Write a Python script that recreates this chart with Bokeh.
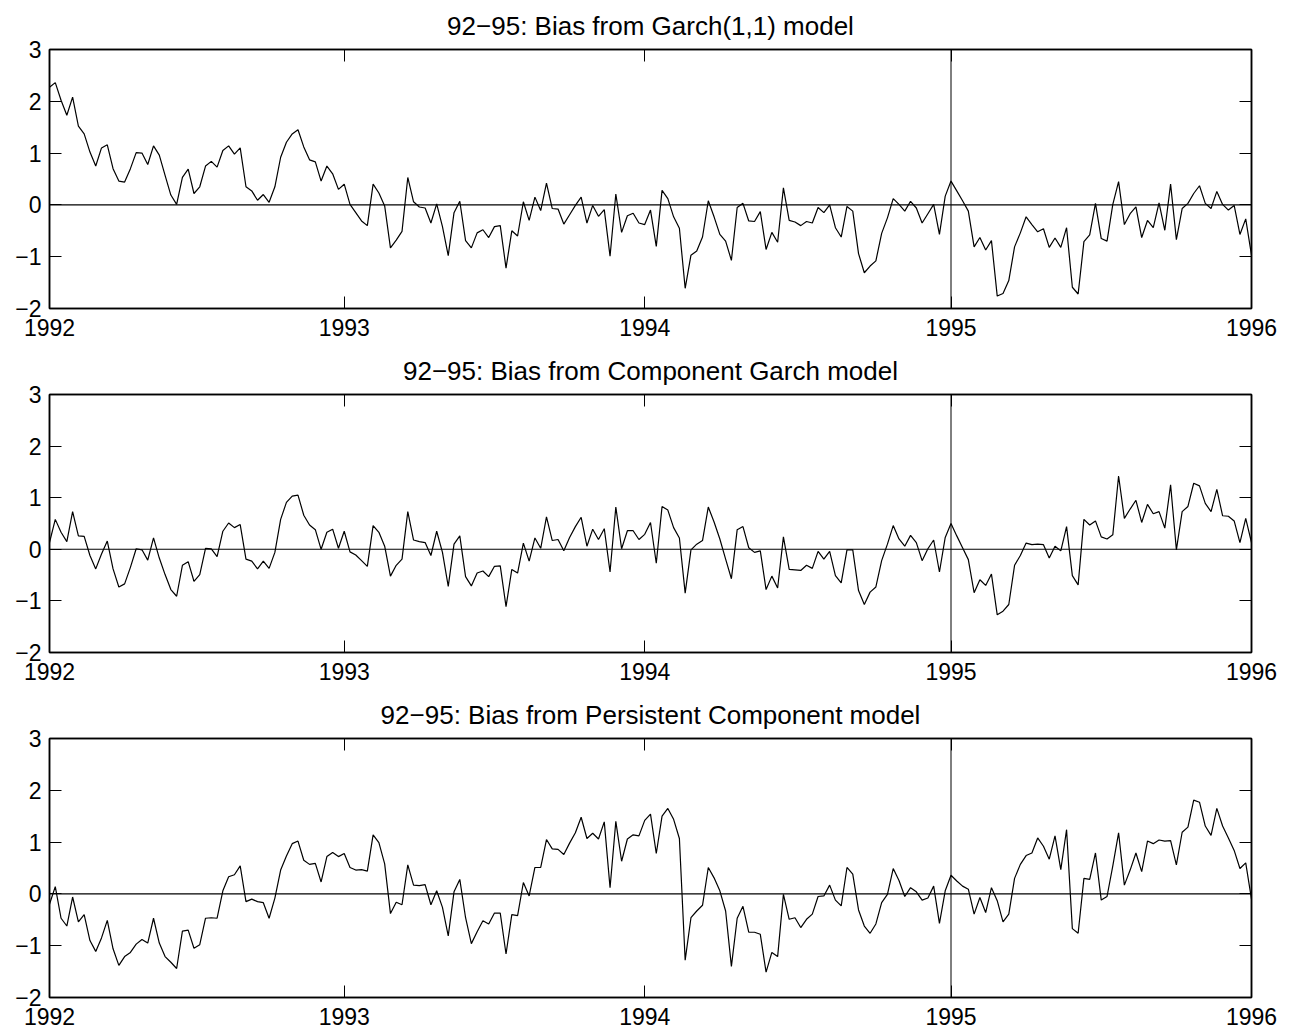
from bokeh.plotting import figure
from bokeh.layouts import column
from bokeh.models import Range1d, FixedTicker, LinearAxis, Span, Title
from bokeh.embed import file_html
from bokeh.resources import INLINE

weeks = list(range(209))
year_ticks = [0, 51, 103, 156, 208]
year_labels = ["1992", "1993", "1994", "1995", "1996"]
y_ticks = [-2, -1, 0, 1, 2, 3]
y_labels = ["\u22122", "\u22121", "0", "1", "2", "3"]
break_week = 156

titles = [
    "92\u221295: Bias from Garch(1,1) model",
    "92\u221295: Bias from Component Garch model",
    "92\u221295: Bias from Persistent Component model",
]

garch = [2.27, 2.36, 2.02, 1.73, 2.08, 1.52, 1.37, 1.02, 0.75, 1.10,
         1.16, 0.70, 0.46, 0.44, 0.70, 1.01, 1.00, 0.78, 1.14, 0.96,
         0.57, 0.19, 0.01, 0.53, 0.69, 0.22, 0.35, 0.75, 0.84, 0.73,
         1.05, 1.14, 0.98, 1.10, 0.35, 0.27, 0.09, 0.20, 0.05, 0.35,
         0.92, 1.21, 1.37, 1.45, 1.12, 0.87, 0.83, 0.46, 0.75, 0.60,
         0.30, 0.40, 0.01, -0.15, -0.31, -0.40, 0.40, 0.23, -0.02, -0.83,
         -0.68, -0.51, 0.53, 0.06, -0.04, -0.06, -0.35, 0.02, -0.42, -0.98,
         -0.15, 0.07, -0.69, -0.83, -0.54, -0.48, -0.63, -0.42, -0.40, -1.22,
         -0.50, -0.60, 0.06, -0.30, 0.15, -0.11, 0.42, -0.07, -0.08, -0.37,
         -0.19, -0.01, 0.15, -0.35, -0.01, -0.22, -0.09, -0.99, 0.21, -0.53,
         -0.21, -0.16, -0.35, -0.38, -0.10, -0.80, 0.28, 0.12, -0.23, -0.45,
         -1.61, -0.97, -0.89, -0.62, 0.08, -0.23, -0.57, -0.70, -1.07, -0.05,
         0.03, -0.31, -0.32, -0.13, -0.86, -0.53, -0.72, 0.33, -0.30, -0.33,
         -0.40, -0.32, -0.35, -0.05, -0.15, 0.00, -0.44, -0.62, -0.03, -0.12,
         -0.94, -1.31, -1.18, -1.08, -0.55, -0.25, 0.12, 0.01, -0.12, 0.07,
         -0.06, -0.35, -0.17, 0.01, -0.57, 0.17, 0.46, 0.27, 0.08, -0.12,
         -0.81, -0.63, -0.87, -0.69, -1.76, -1.71, -1.46, -0.81, -0.54, -0.23,
         -0.38, -0.52, -0.46, -0.82, -0.64, -0.82, -0.44, -1.59, -1.72, -0.71,
         -0.58, 0.03, -0.65, -0.70, 0.01, 0.45, -0.38, -0.17, -0.04, -0.63,
         -0.30, -0.44, 0.04, -0.49, 0.40, -0.67, -0.07, 0.03, 0.22, 0.37,
         0.03, -0.07, 0.26, 0.01, -0.10, -0.01, -0.57, -0.27, -0.97]

component = [0.13, 0.58, 0.33, 0.15, 0.73, 0.26, 0.25, -0.12, -0.38, -0.09,
             0.16, -0.38, -0.73, -0.67, -0.35, 0.01, -0.01, -0.21, 0.22, -0.17,
             -0.49, -0.78, -0.91, -0.31, -0.24, -0.62, -0.49, 0.02, 0.01, -0.14,
             0.35, 0.51, 0.42, 0.48, -0.19, -0.23, -0.38, -0.23, -0.37, -0.06,
             0.58, 0.91, 1.03, 1.05, 0.66, 0.47, 0.38, 0.00, 0.33, 0.39,
             0.02, 0.35, -0.05, -0.11, -0.22, -0.33, 0.46, 0.33, 0.06, -0.52,
             -0.31, -0.19, 0.73, 0.18, 0.15, 0.13, -0.12, 0.35, -0.06, -0.72,
             0.10, 0.26, -0.53, -0.71, -0.46, -0.42, -0.53, -0.33, -0.32, -1.11,
             -0.39, -0.46, 0.12, -0.23, 0.22, 0.02, 0.63, 0.17, 0.19, -0.03,
             0.23, 0.44, 0.62, 0.06, 0.39, 0.19, 0.40, -0.44, 0.82, 0.01,
             0.36, 0.36, 0.19, 0.29, 0.52, -0.27, 0.83, 0.76, 0.42, 0.22,
             -0.85, -0.01, 0.10, 0.17, 0.82, 0.53, 0.20, -0.19, -0.57, 0.38,
             0.44, 0.03, -0.06, -0.03, -0.78, -0.52, -0.75, 0.24, -0.39, -0.40,
             -0.41, -0.31, -0.37, -0.04, -0.19, -0.04, -0.51, -0.65, -0.01, -0.01,
             -0.80, -1.07, -0.83, -0.73, -0.22, 0.10, 0.46, 0.20, 0.06, 0.27,
             0.13, -0.22, 0.01, 0.18, -0.44, 0.23, 0.50, 0.26, 0.03, -0.20,
             -0.84, -0.59, -0.70, -0.48, -1.27, -1.20, -1.07, -0.31, -0.12, 0.12,
             0.09, 0.10, 0.09, -0.17, 0.06, -0.03, 0.44, -0.51, -0.69, 0.58,
             0.47, 0.55, 0.24, 0.20, 0.28, 1.42, 0.60, 0.78, 0.95, 0.52,
             0.87, 0.69, 0.73, 0.41, 1.25, -0.01, 0.73, 0.83, 1.28, 1.23,
             0.89, 0.73, 1.16, 0.65, 0.64, 0.55, 0.13, 0.60, 0.13]

persistent = [-0.20, 0.14, -0.47, -0.62, -0.06, -0.54, -0.40, -0.90, -1.11, -0.85,
              -0.51, -1.06, -1.38, -1.21, -1.13, -0.97, -0.88, -0.95, -0.47, -0.95,
              -1.21, -1.32, -1.44, -0.72, -0.70, -1.05, -0.98, -0.47, -0.46, -0.47,
              0.06, 0.33, 0.37, 0.54, -0.15, -0.10, -0.15, -0.17, -0.47, -0.08,
              0.46, 0.73, 0.97, 1.02, 0.65, 0.57, 0.59, 0.23, 0.72, 0.80,
              0.72, 0.78, 0.51, 0.46, 0.47, 0.44, 1.14, 0.99, 0.58, -0.38,
              -0.16, -0.21, 0.56, 0.17, 0.16, 0.18, -0.21, 0.06, -0.26, -0.81,
              0.04, 0.28, -0.46, -0.96, -0.73, -0.52, -0.58, -0.37, -0.37, -1.16,
              -0.40, -0.42, 0.22, -0.04, 0.51, 0.51, 1.05, 0.87, 0.86, 0.76,
              0.98, 1.18, 1.48, 1.07, 1.17, 1.06, 1.39, 0.12, 1.40, 0.63,
              1.06, 1.14, 1.12, 1.42, 1.54, 0.78, 1.50, 1.65, 1.44, 1.07,
              -1.28, -0.46, -0.33, -0.22, 0.51, 0.31, 0.06, -0.33, -1.40, -0.47,
              -0.24, -0.74, -0.74, -0.78, -1.51, -1.13, -1.21, -0.01, -0.49, -0.46,
              -0.65, -0.49, -0.39, -0.05, -0.04, 0.17, -0.12, -0.23, 0.51, 0.38,
              -0.31, -0.62, -0.76, -0.58, -0.17, -0.01, 0.49, 0.26, -0.05, 0.12,
              0.04, -0.12, -0.08, 0.15, -0.57, 0.06, 0.36, 0.25, 0.15, 0.09,
              -0.39, -0.07, -0.36, 0.12, -0.13, -0.54, -0.39, 0.30, 0.57, 0.74,
              0.79, 1.08, 0.92, 0.67, 1.12, 0.47, 1.24, -0.67, -0.76, 0.30,
              0.28, 0.79, -0.12, -0.05, 0.54, 1.18, 0.17, 0.46, 0.79, 0.43,
              1.02, 0.97, 1.04, 1.02, 1.03, 0.56, 1.19, 1.29, 1.81, 1.77,
              1.31, 1.13, 1.65, 1.31, 1.08, 0.84, 0.49, 0.60, -0.10]

FONT = "Liberation Sans"
TICK_SIZE = "23px"
TITLE_SIZE = "26px"


def style_axis(ax, show_labels):
    ax.axis_line_color = "black"
    ax.axis_line_width = 1.5
    ax.major_tick_line_color = "black"
    ax.major_tick_line_width = 1
    ax.major_tick_in = 12
    ax.major_tick_out = 0
    ax.minor_tick_line_color = None
    if show_labels:
        ax.major_label_text_font = FONT
        ax.major_label_text_font_size = TICK_SIZE
        ax.major_label_text_color = "black"
    else:
        ax.major_label_text_font_size = "1px"
        ax.major_label_text_color = None
        ax.major_label_standoff = 0


def make_panel(title, values, height, border_top, border_bottom):
    p = figure(width=1290, height=height,
               x_range=Range1d(weeks[0], weeks[-1]), y_range=Range1d(y_ticks[0], y_ticks[-1]),
               output_backend="svg", toolbar_location=None, title=None,
               min_border_left=49, min_border_right=39, min_border_top=border_top,
               min_border_bottom=border_bottom)
    p.background_fill_color = "white"
    p.border_fill_color = "white"
    p.outline_line_color = "black"
    p.outline_line_width = 1.5
    p.xgrid.visible = False
    p.ygrid.visible = False

    xover = {t: l for t, l in zip(year_ticks, year_labels)}
    yover = {t: l for t, l in zip(y_ticks, y_labels)}

    p.xaxis.ticker = FixedTicker(ticks=year_ticks)
    p.xaxis.major_label_overrides = xover
    p.xaxis.major_label_standoff = 10
    p.yaxis.ticker = FixedTicker(ticks=y_ticks)
    p.yaxis.major_label_overrides = yover
    p.yaxis.major_label_standoff = 8
    style_axis(p.xaxis[0], True)
    style_axis(p.yaxis[0], True)

    top = LinearAxis(ticker=FixedTicker(ticks=year_ticks))
    style_axis(top, False)
    p.add_layout(top, "above")
    right = LinearAxis(ticker=FixedTicker(ticks=y_ticks))
    style_axis(right, False)
    p.add_layout(right, "right")

    p.add_layout(Title(text=title, align="center", text_font=FONT,
                       text_font_size=TITLE_SIZE, text_font_style="normal",
                       text_color="black", standoff=17), "above")

    p.add_layout(Span(location=0, dimension="width", line_color="black", line_width=1.1))
    p.add_layout(Span(location=break_week, dimension="height", line_color="black", line_width=1))

    p.line(weeks, values, line_color="black", line_width=1.2)
    return p


p1 = make_panel(titles[0], garch, 345, 49, 37)
p2 = make_panel(titles[1], component, 344, 48, 37)
p3 = make_panel(titles[2], persistent, 344, 48, 36)

layout = column(p1, p2, p3, spacing=0)
open("out.html", "w").write(file_html(layout, INLINE))
